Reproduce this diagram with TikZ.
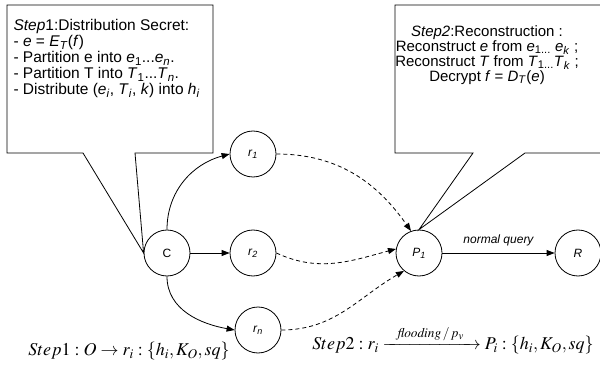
\documentclass[tikz,border=0pt]{standalone}
\usepackage{amsmath}
\usepackage{mathptmx}
\usepackage{fontspec}
\setmainfont{Liberation Sans}
\usetikzlibrary{arrows.meta}

% italic letter with italic subscript
\newcommand{\isub}[2]{\textit{#1}\textsubscript{\textit{#2}}}

\begin{document}
\begin{tikzpicture}[x=1pt, y=1pt]
        % ================= styles =================
        \tikzset{
            % hosts
            vnode/.style={circle, draw=black, thick, fill=white, minimum size=46pt, inner sep=0pt, font=\fontsize{12}{12}\selectfont},
            % callout boxes
            callout/.style={draw=black, thick, fill=white},
            % solid and dashed links
            edge/.style={thick, black, -{Triangle[length=8pt, width=6pt]}},
            flood_edge/.style={edge, dash pattern=on 4pt off 3pt}
        }
        \useasboundingbox (0, 0) rectangle (600, 370);

        % ================= nodes =================
        \node[vnode] (C) at (167, 117) {C};
        \node[vnode] (r1) at (253, 216) {\isub{r}{1}};
        \node[vnode] (r2) at (253, 117) {\isub{r}{2}};
        \node[vnode] (rn) at (258, 40) {\isub{r}{n}};
        \node[vnode] (P1) at (419, 117) {\isub{P}{1}};
        \node[vnode] (R) at (578, 117) {\textit{R}};

        % ================= step 1 callout =================
        \draw[callout] (7, 365) -- (213, 365) -- (213, 217) -- (135, 217)
            -- (C.west) -- (83, 217) -- (7, 217) -- cycle;
        \node[anchor=north west, align=left, font=\fontsize{15.5}{16}\selectfont] (box1) at (10, 354) {%
            \textit{Step}1:Distribution Secret:\\
            - \textit{e} = \isub{E}{T}(\textit{f})\\
            - Partition e into \textit{e}\textsubscript{1}...\isub{e}{n}.\\
            - Partition T into \textit{T}\textsubscript{1}...\isub{T}{n}.\\
            - Distribute (\isub{e}{i}, \isub{T}{i}, \textit{k}) into \isub{h}{i}};

        % ================= step 2 callout =================
        \draw[callout] (395, 365) -- (605, 365) -- (605, 217) -- (525, 217)
            -- (P1.north) -- (473, 217) -- (395, 217) -- cycle;
        \node[anchor=north, align=center, font=\fontsize{15}{15}\selectfont] (box2) at (487, 348) {%
            \textit{Step2}:Reconstruction :\\
            Reconstruct \textit{e} from \textit{e}\textsubscript{1...} \isub{e}{k} ;\\
            Reconstruct \textit{T} from \textit{T}\textsubscript{1...}\isub{T}{k} ;\\
            Decrypt \textit{f} = \isub{D}{T}(\textit{e})};

        % ================= links =================
        \draw[edge] (C.north) to[out=90, in=195] (r1.west);
        \draw[edge] (C) -- (r2);
        \draw[edge] (C.south) to[out=-90, in=170] (rn.west);

        \draw[flood_edge] (r1.east) to[out=0, in=125] (P1.110);
        \draw[flood_edge] (r2.east) to[out=-25, in=195] (P1.170);
        \draw[flood_edge] (rn.east) to[out=0, in=210] (P1.230);

        \draw[edge] (P1) -- (R) node[midway, above=3pt, font=\fontsize{12}{12}\selectfont\itshape] {normal query};

        % ================= message formats =================
        \node[font=\fontsize{18}{18}\selectfont] (msg1) at (129, 19)
            {$Step1:O\rightarrow r_i:\{h_i,K_O,sq\}$};
        \node[font=\fontsize{18}{18}\selectfont] (msg2) at (453, 30)
            {$Step2:r_i\xrightarrow{\hspace{0.6em}\mathit{flooding}\,/\,p_v\hspace{0.6em}}P_i:\{h_i,K_O,sq\}$};

    \end{tikzpicture}
\end{document}
